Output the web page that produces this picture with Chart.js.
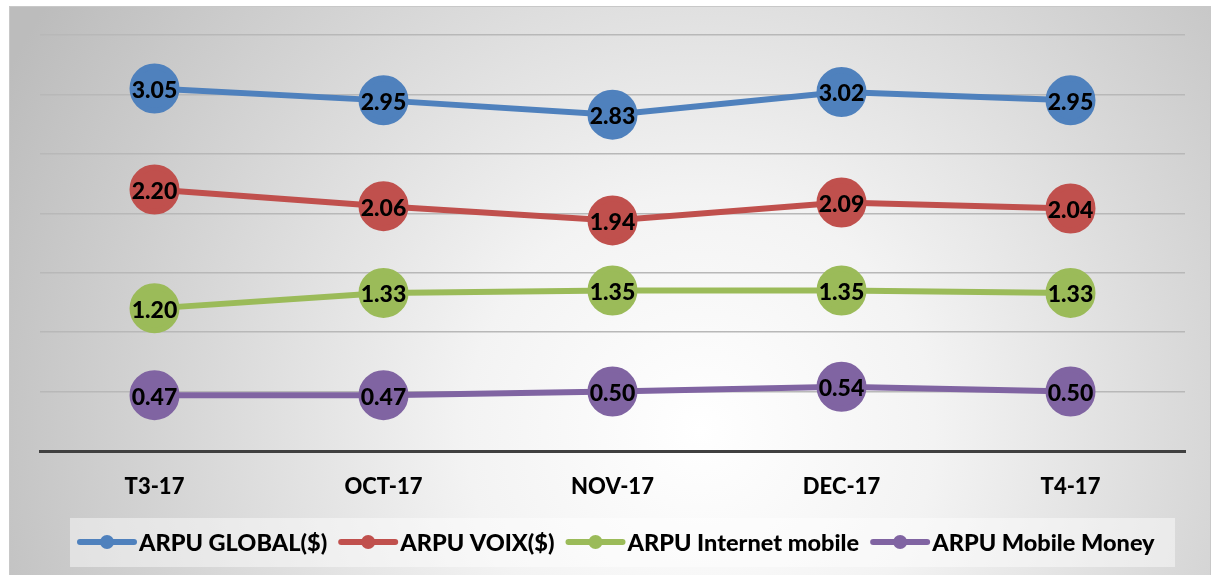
<!DOCTYPE html>
<html>
<head>
<meta charset="utf-8">
<script src="https://cdn.jsdelivr.net/npm/chart.js@4"></script>
<style>
  body { margin: 0; background: #fff; }
  canvas { display: block; }
</style>
</head>
<body>
<canvas id="arpuChart" width="1213" height="575"></canvas>
<script>
const categories = ['T3-17', 'OCT-17', 'NOV-17', 'DEC-17', 'T4-17'];
const arpuGlobal = [3.05, 2.95, 2.83, 3.02, 2.95];
const arpuVoix = [2.20, 2.06, 1.94, 2.09, 2.04];
const arpuInternet = [1.20, 1.33, 1.35, 1.35, 1.33];
const arpuMoney = [0.47, 0.47, 0.50, 0.54, 0.50];

const FONT = 'Lato, "Open Sans", sans-serif';

function series(label, data, color) {
    return {
        label: label,
        data: data,
        borderColor: color,
        backgroundColor: color,
        pointBackgroundColor: color,
        pointBorderColor: color,
        borderWidth: 6,
        pointRadius: 22,
        pointHoverRadius: 22,
        tension: 0
    };
}

// grey radial background behind everything
const backdrop = {
    id: 'backdrop',
    beforeDraw(chart) {
        const ctx = chart.ctx;
        ctx.save();
        const g = ctx.createRadialGradient(700, 430, 0, 700, 430, 780);
        g.addColorStop(0, '#ffffff');
        g.addColorStop(0.3, '#f3f3f3');
        g.addColorStop(1, '#bcbcbc');
        ctx.fillStyle = g;
        ctx.fillRect(9, 6, 1201, 575);
        ctx.strokeStyle = '#c8c8c8';
        ctx.lineWidth = 1;
        ctx.strokeRect(9.5, 6.5, 1201, 575);
        ctx.restore();
    }
};

// value labels centred on the markers
const valueLabels = {
    id: 'valueLabels',
    afterDatasetsDraw(chart) {
        const ctx = chart.ctx;
        ctx.save();
        ctx.font = '900 23px ' + FONT;
        ctx.fillStyle = '#000';
        ctx.textAlign = 'center';
        ctx.textBaseline = 'middle';
        chart.data.datasets.forEach((ds, i) => {
            chart.getDatasetMeta(i).data.forEach((pt, j) => {
                ctx.fillText(ds.data[j].toFixed(2), pt.x, pt.y + 2);
            });
        });
        ctx.restore();
    }
};

// legend with line+dot samples on a pale box
const lineLegend = {
    id: 'lineLegend',
    afterDraw(chart) {
        const ctx = chart.ctx;
        ctx.save();
        ctx.fillStyle = 'rgba(255,255,255,0.45)';
        ctx.fillRect(70, 518, 1105, 49);
        ctx.font = '900 23.5px ' + FONT;
        ctx.textBaseline = 'middle';
        ctx.textAlign = 'left';
        let x = 78;
        const y = 542;
        chart.data.datasets.forEach(ds => {
            ctx.strokeStyle = ds.borderColor;
            ctx.lineWidth = 6;
            ctx.lineCap = 'round';
            ctx.beginPath();
            ctx.moveTo(x + 2, y);
            ctx.lineTo(x + 56, y);
            ctx.stroke();
            ctx.fillStyle = ds.borderColor;
            ctx.beginPath();
            ctx.arc(x + 29, y, 7, 0, Math.PI * 2);
            ctx.fill();
            ctx.fillStyle = '#000';
            ctx.fillText(ds.label, x + 61, y + 1);
            x += 61 + ctx.measureText(ds.label).width + 12;
        });
        ctx.restore();
    }
};

new Chart(document.getElementById('arpuChart'), {
    type: 'line',
    data: {
        labels: categories,
        datasets: [
            series('ARPU GLOBAL($)', arpuGlobal, '#4F81BD'),
            series('ARPU VOIX($)', arpuVoix, '#C0504D'),
            series('ARPU Internet mobile', arpuInternet, '#9BBB59'),
            series('ARPU Mobile Money', arpuMoney, '#8064A2')
        ]
    },
    options: {
        responsive: false,
        animation: false,
        layout: { padding: { left: 40, right: 25, top: 35, bottom: 0 } },
        plugins: {
            legend: { display: false },
            tooltip: { enabled: false }
        },
        elements: { line: { clip: false } },
        scales: {
            x: {
                offset: true,
                grid: { display: false, drawTicks: false },
                border: { color: '#404040', width: 3 },
                ticks: {
                    color: '#000',
                    font: { family: FONT, size: 22, weight: '900' },
                    padding: 23
                },
                afterFit(scale) { scale.height = 124; }
            },
            y: {
                min: 0,
                max: 3.5,
                ticks: { display: false, stepSize: 0.5 },
                grid: { color: '#b8b8b8', lineWidth: 1.5, drawTicks: false },
                border: { display: false },
                afterFit(scale) { scale.width = 0; }
            }
        }
    },
    plugins: [backdrop, valueLabels, lineLegend]
});
</script>
</body>
</html>
